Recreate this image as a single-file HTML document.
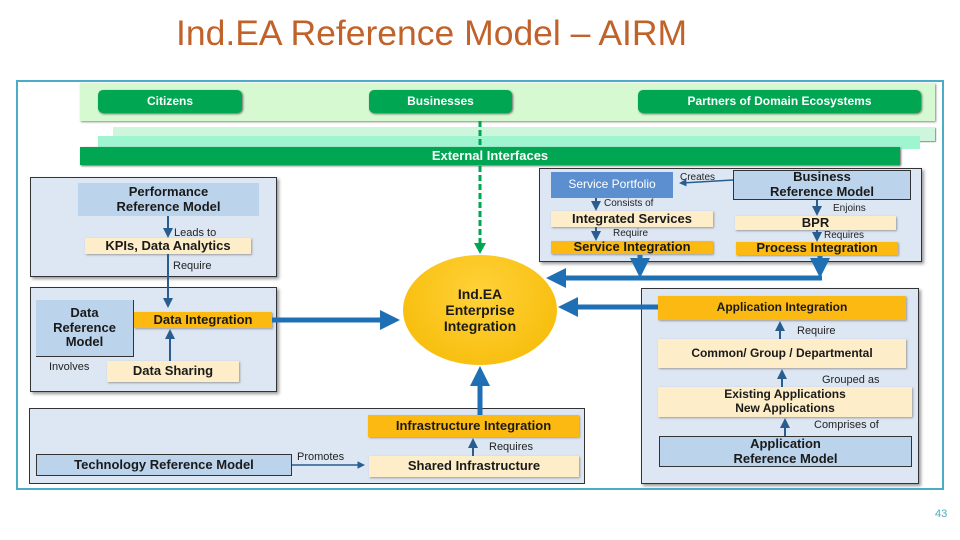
<!DOCTYPE html>
<html><head><meta charset="utf-8"><style>
body{margin:0;width:960px;height:540px;background:#fff;position:relative;overflow:hidden;font-family:"Liberation Sans",sans-serif}
.a{position:absolute;box-sizing:border-box}
.t{display:flex;align-items:center;justify-content:center;text-align:center;font-weight:bold;color:#1a1a1a;line-height:1.15}
.btn{background:#00a651;color:#fff;border-radius:5px;font-size:12px;box-shadow:1px 1px 2px #666}
.cream{background:#fdedc8;font-size:13px;box-shadow:1px 1px 2px #999}
.org{background:#fbb911;font-size:13px;box-shadow:1px 1px 2px #999}
.blu{background:#bcd3ec;font-size:13px}
.pan{background:#dde7f3;border:1px solid #333;box-shadow:2px 2px 3px #999}
.lb{position:absolute;font-size:11px;color:#222;white-space:nowrap}
</style></head><body>
<div class="a" style="left:176px;top:13px;font-size:35.5px;color:#c0622a;white-space:nowrap">Ind.EA Reference Model – AIRM</div>
<div class="a" style="left:16px;top:80px;width:928px;height:410px;border:2px solid #4bacc6"></div>
<div class="a" style="left:80px;top:83px;width:855px;height:38px;background:#d6f9d2;box-shadow:1px 1px 2px #888"></div>
<div class="a t btn" style="left:98px;top:90px;width:144px;height:23px">Citizens</div>
<div class="a t btn" style="left:369px;top:90px;width:143px;height:23px">Businesses</div>
<div class="a t btn" style="left:638px;top:90px;width:283px;height:23px">Partners of Domain Ecosystems</div>
<div class="a" style="left:113px;top:127px;width:822px;height:14px;background:#cdf6dd;box-shadow:1px 1px 1px #888"></div>
<div class="a" style="left:98px;top:136px;width:822px;height:13px;background:#9ff5cf"></div>

<svg class="a" style="left:0;top:0" width="960" height="540">
<line x1="480" y1="121" x2="480" y2="243" stroke="#00a651" stroke-width="3" stroke-dasharray="6,3"/>
<path d="M474,243 L486,243 L480,254z" fill="#00a651"/>
</svg>
<div class="a t" style="left:80px;top:147px;width:820px;height:18px;background:#00a651;color:#fff;font-size:13px;box-shadow:1px 1px 2px #666">External Interfaces</div>

<div class="a pan" style="left:30px;top:177px;width:247px;height:100px"></div>
<div class="a t blu" style="left:78px;top:183px;width:181px;height:33px">Performance<br>Reference Model</div>
<div class="a t cream" style="left:85px;top:238px;width:166px;height:16px">KPIs, Data Analytics</div>
<div class="lb" style="left:174px;top:227px">Leads to</div>
<div class="lb" style="left:173px;top:260px">Require</div>

<div class="a pan" style="left:30px;top:287px;width:247px;height:105px"></div>
<div class="a t blu" style="left:36px;top:300px;width:98px;height:57px;border-right:1px solid #333;border-bottom:1px solid #333">Data<br>Reference<br>Model</div>
<div class="a t org" style="left:134px;top:312px;width:138px;height:16px">Data Integration</div>
<div class="a t cream" style="left:107px;top:361px;width:132px;height:21px">Data Sharing</div>
<div class="lb" style="left:49px;top:361px">Involves</div>

<div class="a pan" style="left:29px;top:408px;width:556px;height:76px;box-shadow:none"></div>
<div class="a t blu" style="left:36px;top:454px;width:256px;height:22px;border:1px solid #333">Technology Reference Model</div>
<div class="lb" style="left:297px;top:451px">Promotes</div>
<div class="a t org" style="left:368px;top:415px;width:211px;height:22px">Infrastructure Integration</div>
<div class="lb" style="left:489px;top:441px">Requires</div>
<div class="a t cream" style="left:369px;top:456px;width:210px;height:21px">Shared Infrastructure</div>

<div class="a pan" style="left:539px;top:168px;width:383px;height:94px"></div>
<div class="a t" style="left:551px;top:172px;width:122px;height:26px;background:#5b8fd0;color:#fff;font-weight:normal;font-size:12px">Service Portfolio</div>
<div class="a t blu" style="left:733px;top:170px;width:178px;height:30px;border:1px solid #333">Business<br>Reference Model</div>
<div class="lb" style="left:680px;top:172px;font-size:10px">Creates</div>
<div class="lb" style="left:604px;top:198px;font-size:10px">Consists of</div>
<div class="a t cream" style="left:551px;top:211px;width:162px;height:16px">Integrated Services</div>
<div class="lb" style="left:613px;top:228px;font-size:10px">Require</div>
<div class="a t org" style="left:551px;top:241px;width:162px;height:13px">Service Integration</div>
<div class="lb" style="left:833px;top:203px;font-size:10px">Enjoins</div>
<div class="a t cream" style="left:735px;top:216px;width:161px;height:14px">BPR</div>
<div class="lb" style="left:824px;top:230px;font-size:10px">Requires</div>
<div class="a t org" style="left:736px;top:242px;width:162px;height:13px">Process Integration</div>

<div class="a pan" style="left:641px;top:288px;width:278px;height:196px"></div>
<div class="a t org" style="left:658px;top:296px;width:248px;height:24px;font-size:12px">Application Integration</div>
<div class="lb" style="left:797px;top:325px">Require</div>
<div class="a t cream" style="left:658px;top:339px;width:248px;height:29px;font-size:12px">Common/ Group / Departmental</div>
<div class="lb" style="left:822px;top:374px">Grouped as</div>
<div class="a t cream" style="left:658px;top:387px;width:254px;height:30px;font-size:12px">Existing Applications<br>New Applications</div>
<div class="lb" style="left:814px;top:419px">Comprises of</div>
<div class="a t blu" style="left:659px;top:436px;width:253px;height:31px;border:1px solid #333">Application<br>Reference Model</div>

<div class="a t" style="left:403px;top:255px;width:154px;height:110px;border-radius:50%;background:radial-gradient(ellipse at 50% 35%,#ffd23a,#f5b800);font-size:14px">Ind.EA<br>Enterprise<br>Integration</div>

<svg class="a" style="left:0;top:0" width="960" height="540">
<defs>
<marker id="b" markerWidth="4" markerHeight="4" refX="2" refY="2" orient="auto"><path d="M0,0L4,2L0,4z" fill="#1f6fb5"/></marker>
<marker id="s" markerWidth="5" markerHeight="5" refX="3" refY="2.5" orient="auto"><path d="M0,0L5,2.5L0,5z" fill="#2a5d8f"/></marker>
</defs>
<line x1="272" y1="320" x2="390" y2="320" stroke="#1f6fb5" stroke-width="5" marker-end="url(#b)"/>
<line x1="658" y1="307" x2="568" y2="307" stroke="#1f6fb5" stroke-width="5" marker-end="url(#b)"/>
<line x1="480" y1="415" x2="480" y2="376" stroke="#1f6fb5" stroke-width="5" marker-end="url(#b)"/>
<line x1="640" y1="255" x2="640" y2="268" stroke="#1f6fb5" stroke-width="5" marker-end="url(#b)"/>
<line x1="820" y1="256" x2="820" y2="268" stroke="#1f6fb5" stroke-width="5" marker-end="url(#b)"/>
<line x1="822" y1="278" x2="556" y2="278" stroke="#1f6fb5" stroke-width="5" marker-end="url(#b)"/>
<line x1="168" y1="216" x2="168" y2="234" stroke="#2a5d8f" stroke-width="2" marker-end="url(#s)"/>
<line x1="168" y1="254" x2="168" y2="304" stroke="#2a5d8f" stroke-width="2" marker-end="url(#s)"/>
<line x1="170" y1="361" x2="170" y2="333" stroke="#2a5d8f" stroke-width="2" marker-end="url(#s)"/>
<line x1="292" y1="465" x2="362" y2="465" stroke="#2a5d8f" stroke-width="1.5" marker-end="url(#s)"/>
<line x1="473" y1="456" x2="473" y2="442" stroke="#2a5d8f" stroke-width="2" marker-end="url(#s)"/>
<line x1="733" y1="180" x2="682" y2="183" stroke="#2a5d8f" stroke-width="1.5" marker-end="url(#s)"/>
<line x1="596" y1="198" x2="596" y2="207" stroke="#2a5d8f" stroke-width="2" marker-end="url(#s)"/>
<line x1="596" y1="227" x2="596" y2="237" stroke="#2a5d8f" stroke-width="2" marker-end="url(#s)"/>
<line x1="817" y1="200" x2="817" y2="212" stroke="#2a5d8f" stroke-width="2" marker-end="url(#s)"/>
<line x1="817" y1="230" x2="817" y2="238" stroke="#2a5d8f" stroke-width="2" marker-end="url(#s)"/>
<line x1="780" y1="339" x2="780" y2="325" stroke="#2a5d8f" stroke-width="2" marker-end="url(#s)"/>
<line x1="782" y1="387" x2="782" y2="373" stroke="#2a5d8f" stroke-width="2" marker-end="url(#s)"/>
<line x1="785" y1="436" x2="785" y2="422" stroke="#2a5d8f" stroke-width="2" marker-end="url(#s)"/>
</svg>
<div class="a" style="left:935px;top:508px;font-size:11px;color:#4bacc6">43</div>
</body></html>
